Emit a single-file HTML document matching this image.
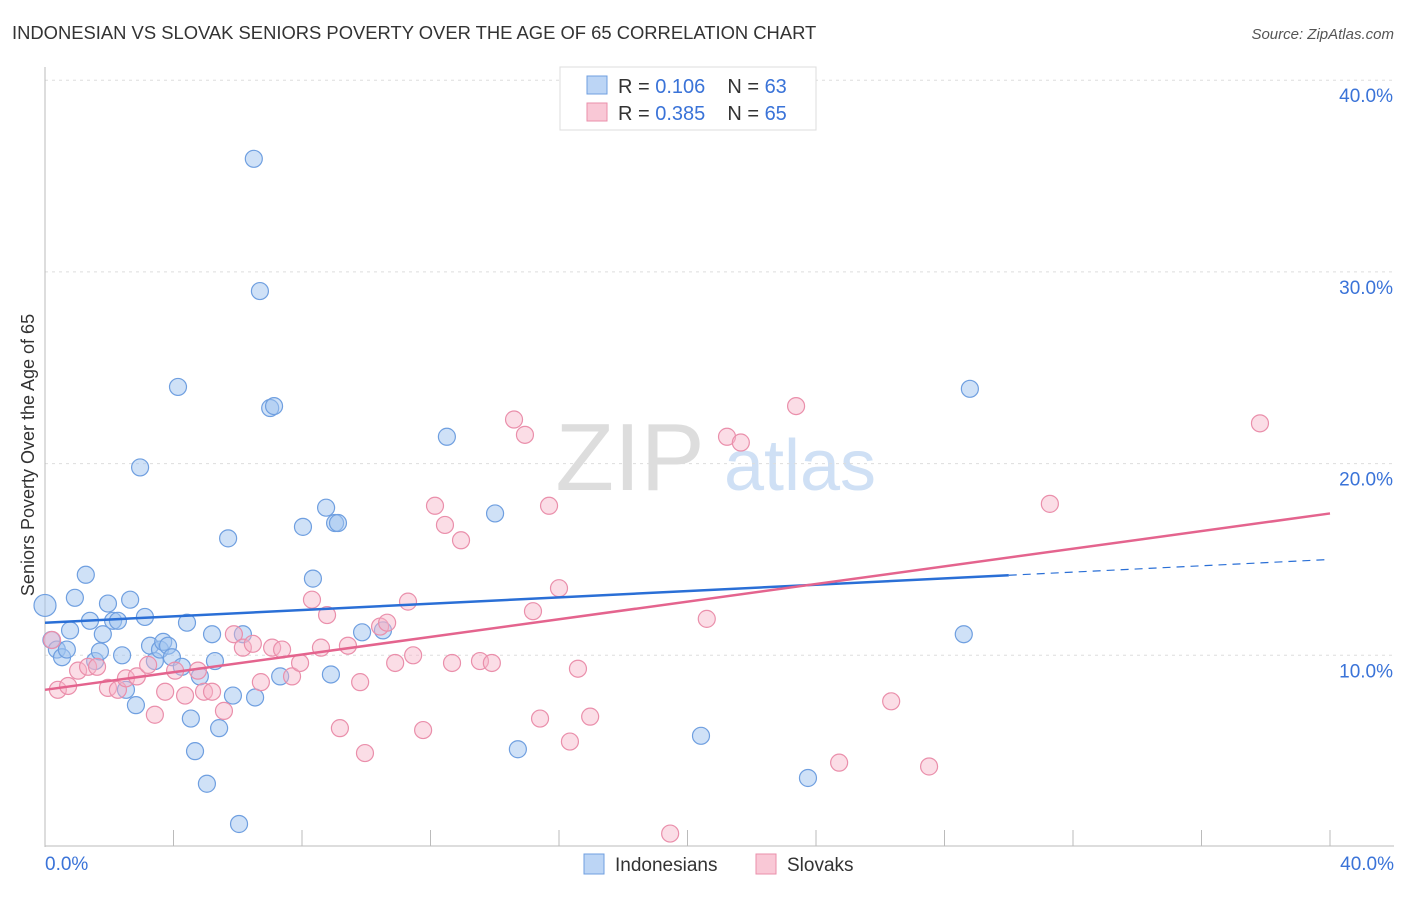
<!DOCTYPE html>
<html><head><meta charset="utf-8"><style>
body{margin:0;background:#fff;font-family:"Liberation Sans",sans-serif;}
svg text{font-family:"Liberation Sans",sans-serif;}
</style></head><body>
<svg id="chart" width="1406" height="892" xmlns="http://www.w3.org/2000/svg">
<text x="12" y="39" font-size="18.4" fill="#333">INDONESIAN VS SLOVAK SENIORS POVERTY OVER THE AGE OF 65 CORRELATION CHART</text>
<text x="1394" y="39" font-size="15" fill="#555" font-style="italic" text-anchor="end">Source: ZipAtlas.com</text>
<g>
<text x="630" y="490" font-size="96" fill="#ddd" font-family="Liberation Serif" text-anchor="middle">ZIP</text>
<text x="800" y="490" font-size="72" fill="#cfe0f5" text-anchor="middle">atlas</text>
</g>
<g id="grid"></g>
<g id="axes"></g>
<g id="points"></g>
<g id="trends"></g>
<text transform="translate(34,455) rotate(-90)" font-size="18" fill="#333" text-anchor="middle">Seniors Poverty Over the Age of 65</text>
<g>
<rect x="560" y="67" width="256" height="63" fill="#fff" stroke="#ddd"/>
<rect x="587" y="76" width="20" height="18" fill="#bcd5f5" stroke="#6f9fe0"/>
<rect x="587" y="103" width="20" height="18" fill="#f9c8d6" stroke="#ea8fab"/>
<text x="618" y="93" font-size="20" fill="#333">R = <tspan fill="#3a73d8">0.106</tspan><tspan dx="22">N = </tspan><tspan fill="#3a73d8">63</tspan></text>
<text x="618" y="120" font-size="20" fill="#333">R = <tspan fill="#3a73d8">0.385</tspan><tspan dx="22">N = </tspan><tspan fill="#3a73d8">65</tspan></text>
</g>
<g>
<rect x="584" y="854" width="20" height="20" fill="#bcd5f5" stroke="#6f9fe0"/>
<text x="615" y="871" font-size="19" fill="#333">Indonesians</text>
<rect x="756" y="854" width="20" height="20" fill="#f9c8d6" stroke="#ea8fab"/>
<text x="787" y="871" font-size="19" fill="#333">Slovaks</text>
</g>
</svg>
<script>
const yTicks=[10,20,30,40];
const xTickLabels=["0.0%","40.0%"];
const blueX=[0,0.2,0.37,0.53,0.78,0.68,0.93,1.27,1.4,1.56,1.8,1.71,1.96,2.12,2.27,2.4,2.52,2.65,2.83,2.96,3.11,3.27,3.42,3.58,3.68,3.83,3.95,4.14,4.26,4.42,4.54,4.67,4.82,5.04,5.2,5.29,5.42,5.7,5.85,6.04,6.16,6.5,6.54,6.69,7.01,7.13,7.32,8.03,8.34,8.75,8.9,9.03,9.12,9.87,10.52,12.51,14.01,14.72,20.42,23.75,28.6,28.79];
const blueY=[12.6,10.8,10.3,9.9,11.3,10.3,13.0,14.2,11.8,9.7,11.1,10.2,12.7,11.8,11.8,10.0,8.2,12.9,7.4,19.8,12.0,10.5,9.7,10.3,10.7,10.5,9.9,24.0,9.4,11.7,6.7,5.0,8.9,3.3,11.1,9.7,6.2,16.1,7.9,1.2,11.1,35.9,7.8,29.0,22.9,23.0,8.9,16.7,14.0,17.7,9.0,16.9,16.9,11.2,11.3,21.4,17.4,5.1,5.8,3.6,11.1,23.9];
const pinkX=[0.22,0.4,0.72,1.03,1.34,1.62,1.96,2.27,2.52,2.86,3.21,3.42,3.74,4.05,4.36,4.76,4.95,5.2,5.57,5.88,6.16,6.47,6.72,7.07,7.38,7.69,7.94,8.31,8.59,8.78,9.18,9.43,9.81,9.96,10.43,10.65,10.9,11.3,11.46,11.77,12.14,12.45,12.67,12.95,13.54,13.91,14.6,14.94,15.19,15.41,15.69,16.0,16.34,16.59,16.97,19.46,20.6,21.23,21.66,23.38,24.72,26.34,27.52,31.28,37.82];
const pinkY=[10.8,8.2,8.4,9.2,9.4,9.4,8.3,8.2,8.8,8.9,9.5,6.9,8.1,9.2,7.9,9.2,8.1,8.1,7.1,11.1,10.4,10.6,8.6,10.4,10.3,8.9,9.6,12.9,10.4,12.1,6.2,10.5,8.6,4.9,11.5,11.7,9.6,12.8,10.0,6.1,17.8,16.8,9.6,16.0,9.7,9.6,22.3,21.5,12.3,6.7,17.8,13.5,5.5,9.3,6.8,0.7,11.9,21.4,21.1,23.0,4.4,7.6,4.2,17.9,22.1];
const blueTrend=[11.7,15.0];
const pinkTrend=[8.2,17.4];
const X0=45,X1=1330,Y0=847,YS=19.17;
const xs=v=>X0+(v/40)*(X1-X0), ys=v=>Y0-v*YS;
const NS="http://www.w3.org/2000/svg";
function mk(t,a,parent){const e=document.createElementNS(NS,t);for(const k in a)e.setAttribute(k,a[k]);document.getElementById(parent).appendChild(e);return e;}
yTicks.forEach(t=>{
 const l=mk('line',{x1:X0,x2:1394,y1:ys(t),y2:ys(t),stroke:'#ddd','stroke-dasharray':'3,4'},'grid');
 
 
 const tx=mk('text',{x:1393,y:ys(t)+22,'font-size':19,fill:'#3a73d8','text-anchor':'end'},'axes');
 tx.textContent=t.toFixed(1)+'%';
 
 
});
let a=mk('line',{x1:X0,x2:X0,y1:67,y2:847,stroke:'#bbb'},'axes');


a=mk('line',{x1:X0,x2:1394,y1:846,y2:846,stroke:'#bbb'},'axes');


for(let i=1;i<=10;i++){const t=mk('line',{x1:xs(i*4),x2:xs(i*4),y1:830,y2:846,stroke:'#bbb'},'axes');
 
 }
let xl=mk('text',{x:45,y:870,'font-size':19,fill:'#3a73d8'},'axes');xl.textContent=xTickLabels[0];


xl=mk('text',{x:1394,y:870,'font-size':19,fill:'#3a73d8','text-anchor':'end'},'axes');xl.textContent=xTickLabels[1];


blueX.forEach((x,i)=>{const c=mk('circle',{cx:xs(x),cy:ys(blueY[i]),r:i==0?11:8.5,fill:'rgba(160,196,240,0.5)',stroke:'#6f9fe0','stroke-width':1.2},'points');
 
 });
pinkX.forEach((x,i)=>{const c=mk('circle',{cx:xs(x),cy:ys(pinkY[i]),r:8.5,fill:'rgba(247,180,200,0.45)',stroke:'#ea8fab','stroke-width':1.2},'points');
 
 });
const bx=30;const by=blueTrend[0]+(blueTrend[1]-blueTrend[0])*(bx/40);
let tl=mk('line',{x1:xs(0),y1:ys(blueTrend[0]),x2:xs(bx),y2:ys(by),stroke:'#2a6fd6','stroke-width':2.5},'trends');


tl=mk('line',{x1:xs(bx),y1:ys(by),x2:xs(40),y2:ys(blueTrend[1]),stroke:'#2a6fd6','stroke-width':1.2,'stroke-dasharray':'8,6'},'trends');


tl=mk('line',{x1:xs(0),y1:ys(pinkTrend[0]),x2:xs(40),y2:ys(pinkTrend[1]),stroke:'#e4648e','stroke-width':2.5},'trends');


</script>
</body></html>
